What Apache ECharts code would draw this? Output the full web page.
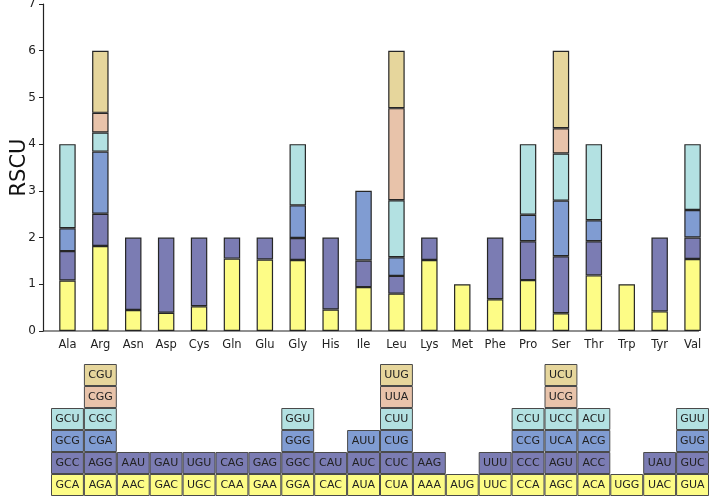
<!DOCTYPE html>
<html>
<head>
<meta charset="utf-8">
<script src="https://cdn.jsdelivr.net/npm/echarts@6/dist/echarts.min.js"></script>
<style>
  html, body { margin: 0; padding: 0; background: #fff; }
  #main { width: 709px; height: 496px; }
</style>
</head>
<body>
<div id="main"></div>
<script>
var myChart = echarts.init(document.getElementById('main'));

const aminoAcids = ['Ala', 'Arg', 'Asn', 'Asp', 'Cys', 'Gln', 'Glu', 'Gly', 'His', 'Ile',
    'Leu', 'Lys', 'Met', 'Phe', 'Pro', 'Ser', 'Thr', 'Trp', 'Tyr', 'Val']

// codons per stack level, bottom (level 0) to top (level 5)
const codons0 = ['GCA', 'AGA', 'AAC', 'GAC', 'UGC', 'CAA', 'GAA', 'GGA', 'CAC', 'AUA',
    'CUA', 'AAA', 'AUG', 'UUC', 'CCA', 'AGC', 'ACA', 'UGG', 'UAC', 'GUA']
const codons1 = ['GCC', 'AGG', 'AAU', 'GAU', 'UGU', 'CAG', 'GAG', 'GGC', 'CAU', 'AUC',
    'CUC', 'AAG', '', 'UUU', 'CCC', 'AGU', 'ACC', '', 'UAU', 'GUC']
const codons2 = ['GCG', 'CGA', '', '', '', '', '', 'GGG', '', 'AUU',
    'CUG', '', '', '', 'CCG', 'UCA', 'ACG', '', '', 'GUG']
const codons3 = ['GCU', 'CGC', '', '', '', '', '', 'GGU', '', '',
    'CUU', '', '', '', 'CCU', 'UCC', 'ACU', '', '', 'GUU']
const codons4 = ['', 'CGG', '', '', '', '', '', '', '', '',
    'UUA', '', '', '', '', 'UCG', '', '', '', '']
const codons5 = ['', 'CGU', '', '', '', '', '', '', '', '',
    'UUG', '', '', '', '', 'UCU', '', '', '', '']

// RSCU values per level (same order as codons)
const rscu0 = [1.08, 1.82, 0.45, 0.39, 0.53, 1.55, 1.53, 1.52, 0.46, 0.94,
    0.80, 1.52, 1.00, 0.68, 1.09, 0.38, 1.19, 1.00, 0.42, 1.54]
const rscu1 = [0.63, 0.69, 1.55, 1.61, 1.47, 0.45, 0.47, 0.47, 1.54, 0.57,
    0.38, 0.48, null, 1.32, 0.83, 1.22, 0.73, null, 1.58, 0.46]
const rscu2 = [0.49, 1.33, null, null, null, null, null, 0.70, null, 1.49,
    0.40, null, null, null, 0.57, 1.19, 0.45, null, null, 0.59]
const rscu3 = [1.80, 0.41, null, null, null, null, null, 1.31, null, null,
    1.22, null, null, null, 1.51, 1.01, 1.63, null, null, 1.41]
const rscu4 = [null, 0.42, null, null, null, null, null, null, null, null,
    1.97, null, null, null, null, 0.54, null, null, null, null]
const rscu5 = [null, 1.33, null, null, null, null, null, null, null, null,
    1.23, null, null, null, null, 1.66, null, null, null, null]

const levelColors = ['#fdfc86', '#7b7cb3', '#809cd2', '#b3e1e2', '#e8c3aa', '#e6d69c']

const codonLevels = [codons0, codons1, codons2, codons3, codons4, codons5]
const rscuLevels = [rscu0, rscu1, rscu2, rscu3, rscu4, rscu5]

const font = 'DejaVu Sans'
const series = []

// stacked RSCU bars
rscuLevels.forEach((vals, k) => {
    series.push({
        type: 'bar',
        stack: 'rscu',
        xAxisIndex: 0,
        yAxisIndex: 0,
        barWidth: '50%',
        data: vals,
        itemStyle: {
            color: levelColors[k],
            borderColor: '#262626',
            borderWidth: 1.2
        },
        silent: true
    })
})

// codon table below: one unit cell per codon
codonLevels.forEach((cods, k) => {
    series.push({
        type: 'bar',
        stack: 'table',
        xAxisIndex: 1,
        yAxisIndex: 1,
        barWidth: '100%',
        data: cods.map((c) => c ? 1 : null),
        itemStyle: {
            color: levelColors[k],
            borderColor: '#4a4a4a',
            borderWidth: 1
        },
        label: {
            show: true,
            position: 'inside',
            fontFamily: font,
            fontSize: 11,
            color: '#222',
            formatter: (p) => cods[p.dataIndex]
        },
        silent: true
    })
})

option = {
    animation: false,
    grid: [
        { left: 51, right: 0, top: 4, height: 327, outerBoundsMode: 'none', containLabel: false },
        { left: 51, right: 0, top: 364, height: 132, outerBoundsMode: 'none', containLabel: false }
    ],
    xAxis: [
        {
            type: 'category',
            gridIndex: 0,
            data: aminoAcids,
            axisLine: { show: false },
            axisTick: { show: false },
            axisLabel: { fontFamily: font, fontSize: 11.5, color: '#222', margin: 8 }
        },
        {
            type: 'category',
            gridIndex: 1,
            data: aminoAcids,
            show: false
        }
    ],
    yAxis: [
        {
            type: 'value',
            gridIndex: 0,
            min: 0,
            max: 7,
            interval: 1,
            offset: 8,
            name: 'RSCU',
            nameLocation: 'middle',
            nameRotate: 90,
            nameGap: 13,
            nameMoveOverlap: false,
            nameTextStyle: { fontFamily: font, fontSize: 21, color: '#111' },
            axisLine: { show: true, lineStyle: { color: '#222', width: 1.2 } },
            axisTick: { show: true, length: 4, lineStyle: { color: '#222' } },
            axisLabel: { fontFamily: font, fontSize: 12, color: '#222', margin: 7 },
            splitLine: { show: false }
        },
        {
            type: 'value',
            gridIndex: 1,
            min: 0,
            max: 6,
            show: false
        }
    ],
    series: series
};

myChart.setOption(option)

// x baseline runs from the y axis to the last bar
const y0 = myChart.convertToPixel({ yAxisIndex: 0 }, 0)
myChart.setOption({
    graphic: [{
        type: 'line',
        shape: { x1: 43, y1: y0, x2: 699, y2: y0 },
        style: { stroke: '#222', lineWidth: 1.2 },
        z: 10
    }]
})
</script>
</body>
</html>
